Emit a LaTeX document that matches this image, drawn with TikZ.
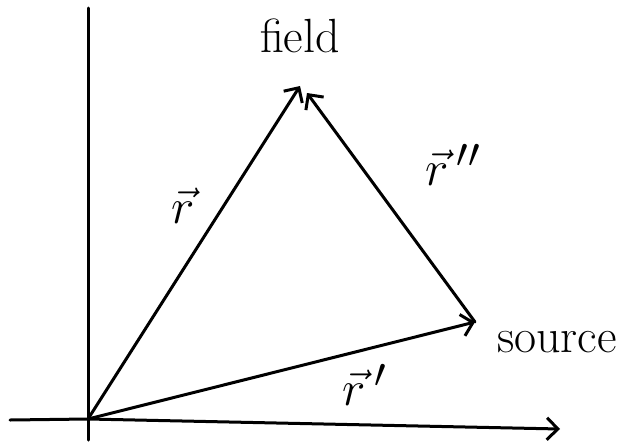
\documentclass[tikz,border=0pt]{standalone}
\usetikzlibrary{arrows.meta}
\begin{document}
\begin{tikzpicture}[x=1pt,y=-1pt,line width=3pt,line cap=round,>={Straight Barb[length=11pt,width=22pt,line width=3pt]},lbl/.style={font=\fontsize{48}{52}\selectfont,inner sep=0pt},vlbl/.style={font=\Huge,scale=2,inner sep=0pt}]
\useasboundingbox(0,0)rectangle(631,442);
\coordinate(o)at(88,419);\coordinate(f)at(300,86);\coordinate(s)at(475,322);\coordinate(fh)at(307,93);
\coordinate(yt)at(88,8);\coordinate(yb)at(88,440);\coordinate(xl)at(10,420);\coordinate(xr)at(560,429);
\node[lbl](fl)at(300,36){field};\node[lbl](sl)at(557,342){source};
\node[vlbl](rl)at(183,206){$\vec r$};\node[vlbl](rpp)at(453,165){$\vec r\,''$};\node[vlbl](rp)at(365,385){$\vec r\,'$};
\draw(yb)--(yt);\draw[->](xl)--(o)--(xr);
\draw[->](o)--(f);\draw[->](o)--(s);\draw[->](s)--(fh);
\end{tikzpicture}
\end{document}
